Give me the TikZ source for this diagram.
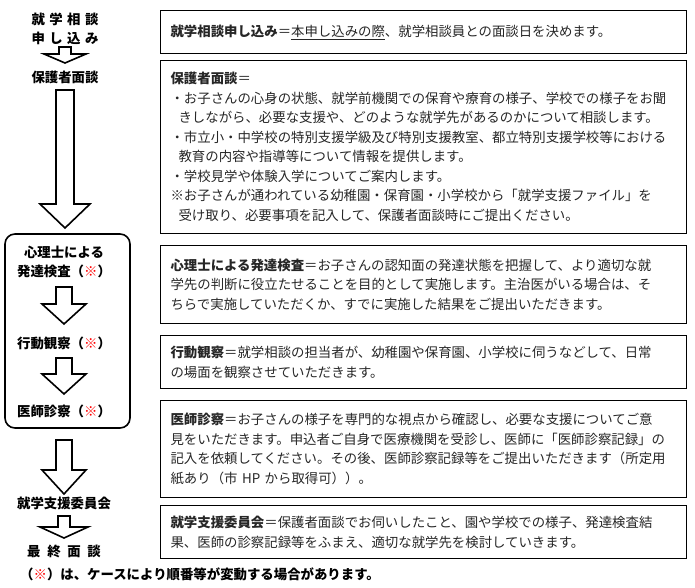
\documentclass[tikz,border=0pt]{standalone}
\usepackage{fontspec}
\setmainfont{Noto Sans CJK JP}
\usetikzlibrary{positioning,calc}
\tikzset{infobox/.style={draw, line width=1.1pt, anchor=north west, text width=506pt, inner xsep=10pt, inner ysep=4pt, align=left, font=\fontsize{13.4}{19.5}\selectfont, text=black!85}}
\tikzset{steplabel/.style={font=\fontsize{13.4}{18.5}\selectfont\bfseries, align=center, inner sep=1pt}}
\tikzset{blockarr/.style={draw, line width=1.6pt, fill=white, line join=miter}}
\newcommand{\redmark}{{\color{red}※}}
% block arrow: x-centre, top, bottom, shaft half width, head half width, head length
\newcommand{\downblock}[6]{%
  \draw[blockarr] (#1-#4,#2) -- (#1+#4,#2) -- (#1+#4,#3-#6) -- (#1+#5,#3-#6)
    -- (#1,#3) -- (#1-#5,#3-#6) -- (#1-#4,#3-#6) -- cycle;}
\begin{document}
\begin{tikzpicture}[x=1pt, y=-1pt]
\useasboundingbox (0,0) rectangle (695,588);

% left column
\node[steplabel] (apply) at (65,29) {就\,\,学\,\,相\,\,談\\申\,\,し\,\,込\,\,み};
\node[steplabel] (parent) at (65,77) {保護者面談};
\draw[line width=1.6pt, rounded corners=10pt] (5,234) rectangle (130,428);
\node[steplabel] (psych) at (64,262) {心理士による\\発達検査（\redmark）};
\node[steplabel] (behav) at (64,343) {行動観察（\redmark）};
\node[steplabel] (doctor) at (64,411) {医師診察（\redmark）};
\node[steplabel] (comm) at (64,503) {就学支援委員会};
\node[steplabel] (final) at (64,551) {最\,\,\,終\,\,\,面\,\,\,談};
\node[font=\fontsize{13.4}{16}\selectfont\bfseries, anchor=west, inner sep=0pt] (note) at (20,574) {（\redmark）は、ケースにより順番等が変動する場合があります。};

\downblock{65}{47}{63}{6}{21}{9}
\downblock{65}{90}{228}{9}{25}{24}
\downblock{64}{287}{324}{8}{22}{20}
\downblock{64}{358}{394}{8}{22}{20}
\downblock{64}{440}{494}{8}{22}{24}
\downblock{64}{516}{538}{6}{24}{11}

% right column
\node[infobox, minimum height=43pt] (b1) at (160,10) {\textbf{就学相談申し込み}＝\underline{本申し込みの際}、就学相談員との面談日を決めます。};
\node[infobox, minimum height=173pt] (b2) at (160,60) {\textbf{保護者面談}＝\\
・お子さんの心身の状態、就学前機関での保育や療育の様子、学校での様子をお聞\\
\hspace*{0.6em}きしながら、必要な支援や、どのような就学先があるのかについて相談します。\\
・市立小・中学校の特別支援学級及び特別支援教室、都立特別支援学校等における\\
\hspace*{0.6em}教育の内容や指導等について情報を提供します。\\
・学校見学や体験入学についてご案内します。\\
※お子さんが通われている幼稚園・保育園・小学校から「就学支援ファイル」を\\
\hspace*{0.6em}受け取り、必要事項を記入して、保護者面談時にご提出ください。};
\node[infobox, minimum height=78pt] (b3) at (160,245) {\textbf{心理士による発達検査}＝お子さんの認知面の発達状態を把握して、より適切な就\\学先の判断に役立たせることを目的として実施します。主治医がいる場合は、そ\\ちらで実施していただくか、すでに実施した結果をご提出いただきます。};
\node[infobox, minimum height=53pt] (b4) at (160,335) {\textbf{行動観察}＝就学相談の担当者が、幼稚園や保育園、小学校に伺うなどして、日常\\の場面を観察させていただきます。};
\node[infobox, minimum height=97pt] (b5) at (160,400) {\textbf{医師診察}＝お子さんの様子を専門的な視点から確認し、必要な支援についてご意\\見をいただきます。申込者ご自身で医療機関を受診し、医師に「医師診察記録」の\\記入を依頼してください。その後、医師診察記録等をご提出いただきます（所定用\\紙あり（市 HP から取得可））。};
\node[infobox, minimum height=53pt] (b6) at (160,505) {\textbf{就学支援委員会}＝保護者面談でお伺いしたこと、園や学校での様子、発達検査結\\果、医師の診察記録等をふまえ、適切な就学先を検討していきます。};
\end{tikzpicture}
\end{document}
